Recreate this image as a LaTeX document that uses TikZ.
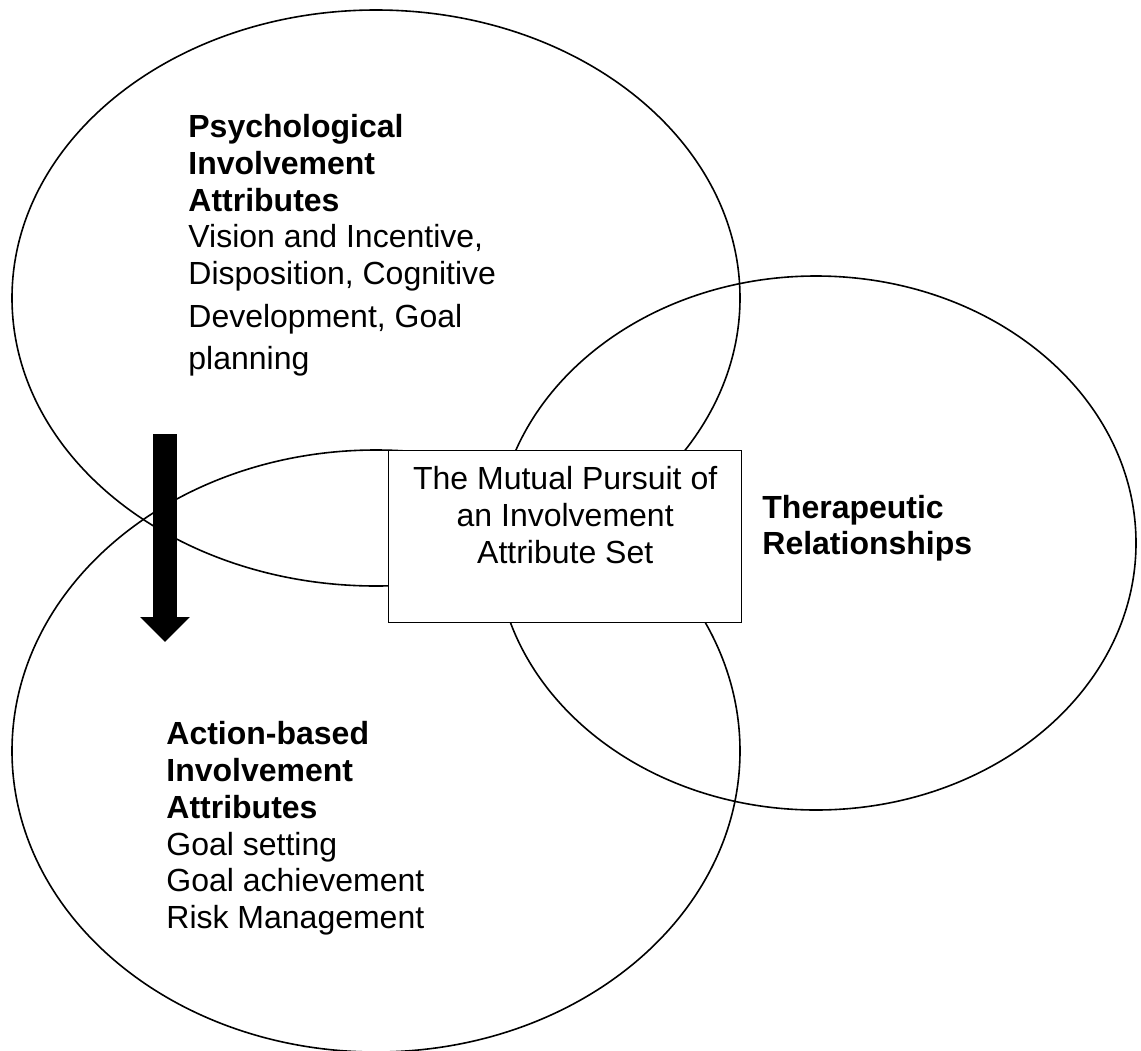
\documentclass[tikz,border=0pt]{standalone}
\usepackage{fontspec}
\setmainfont{Liberation Sans}
\usetikzlibrary{positioning, arrows.meta}

\begin{document}
\begin{tikzpicture}[
    x=0.5pt, y=-0.5pt,
    venn/.style={draw, line width=0.8pt},
    ibox/.style={rectangle, draw, fill=white, line width=0.7pt, inner sep=0pt, minimum width=176.5pt, minimum height=86pt},
    attrtext/.style={align=left, inner sep=0pt, anchor=north west, font=\fontsize{16pt}{18.4pt}\selectfont},
    boxtext/.style={align=center, inner sep=0pt, font=\fontsize{16pt}{18.4pt}\selectfont},
    flow/.style={line width=12pt, -{Triangle[length=12.5pt, width=24pt]}},
]
\useasboundingbox (0,0) rectangle (1141,1050);

% ============ Ellipses ============
\draw[venn] (376,298) ellipse [x radius=182pt, y radius=144pt];
\draw[venn] (376,751) ellipse [x radius=182pt, y radius=150.5pt];
\draw[venn] (816,543) ellipse [x radius=160pt, y radius=133.5pt];

% ============ Centre box ============
\node[ibox, anchor=north west] (mutual) at (388,450) {};
\node[boxtext, below=8pt of mutual.north] (mutualtxt) {The Mutual Pursuit of\\an Involvement\\Attribute Set};

% ============ Arrow ============
\coordinate (arrtop) at (165,434);
\coordinate (arrtip) at (165,642);
\draw[flow] (arrtop) -- (arrtip);

% ============ Labels ============
\node[attrtext] (psych) at (188,114) {\textbf{Psychological}\\\textbf{Involvement}\\\textbf{Attributes}\\Vision and Incentive,\\Disposition, Cognitive\\[2.8pt]Development, Goal\\[2.8pt]planning};
\node[attrtext] (action) at (166,721) {\textbf{Action-based}\\\textbf{Involvement}\\\textbf{Attributes}\\Goal setting\\Goal achievement\\Risk Management};
\node[attrtext, font=\fontsize{16pt}{18pt}\selectfont\bfseries] (thera) at (762,495) {Therapeutic\\Relationships};

\end{tikzpicture}
\end{document}
